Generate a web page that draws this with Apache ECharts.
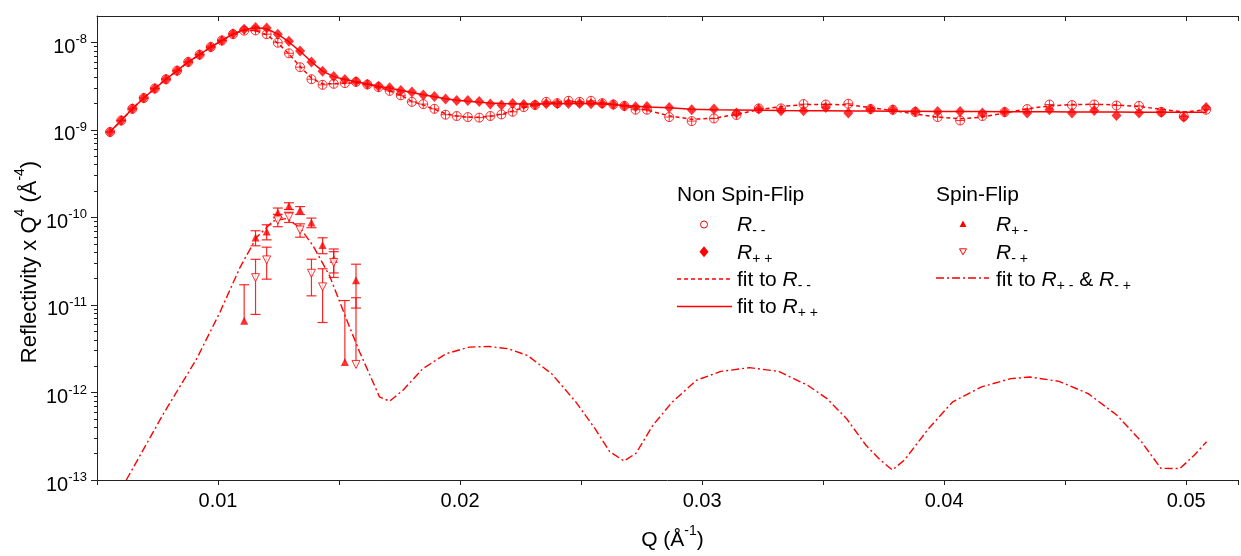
<!DOCTYPE html>
<html><head><meta charset="utf-8">
<script src="https://cdn.jsdelivr.net/npm/echarts@6/dist/echarts.min.js"></script>
<style>html,body{margin:0;padding:0;background:#fff}#c{width:1241px;height:556px}</style>
</head><body><div id="c"></div>
<script>
// ---------- data ----------
const Q = [0.00554,0.00600,0.00646,0.00693,0.00739,0.00785,0.00831,0.00877,0.00924,0.00970,
0.01016,0.01062,0.01108,0.01155,0.01201,0.01247,0.01293,0.01339,0.01386,0.01432,
0.01478,0.01524,0.01570,0.01617,0.01663,0.01709,0.01755,0.01801,0.01848,0.01894,
0.01940,0.01986,0.02032,0.02079,0.02125,0.02171,0.02217,0.02263,0.02310,0.02356,
0.02402,0.02448,0.02494,0.02541,0.02587,0.02633,0.02679,0.02725,0.02772,0.02864,
0.02957,0.03049,0.03142,0.03234,0.03326,0.03419,0.03511,0.03604,0.03696,0.03788,
0.03881,0.03973,0.04066,0.04158,0.04250,0.04343,0.04435,0.04528,0.04620,0.04712,
0.04805,0.04897,0.04990,0.05082];
const Rpp = [9.46e-10,1.28e-9,1.74e-9,2.31e-9,2.97e-9,3.79e-9,4.75e-9,5.97e-9,7.23e-9,8.85e-9,
1.05e-8,1.25e-8,1.41e-8,1.48e-8,1.46e-8,1.24e-8,1.03e-8,7.96e-9,5.97e-9,4.67e-9,
4.06e-9,3.76e-9,3.57e-9,3.33e-9,3.16e-9,3.02e-9,2.81e-9,2.70e-9,2.51e-9,2.40e-9,
2.26e-9,2.17e-9,2.17e-9,2.11e-9,1.97e-9,1.92e-9,2.00e-9,1.95e-9,1.94e-9,1.99e-9,
1.99e-9,2.00e-9,2.00e-9,1.99e-9,1.99e-9,1.95e-9,1.88e-9,1.84e-9,1.85e-9,1.80e-9,
1.70e-9,1.73e-9,1.56e-9,1.73e-9,1.65e-9,1.65e-9,1.80e-9,1.56e-9,1.73e-9,1.70e-9,
1.62e-9,1.62e-9,1.62e-9,1.56e-9,1.60e-9,1.56e-9,1.70e-9,1.56e-9,1.67e-9,1.46e-9,
1.56e-9,1.58e-9,1.39e-9,1.80e-9];
const Rmm = [9.46e-10,1.28e-9,1.74e-9,2.31e-9,2.97e-9,3.79e-9,4.75e-9,5.97e-9,7.23e-9,8.85e-9,
1.05e-8,1.24e-8,1.36e-8,1.37e-8,1.24e-8,9.9e-9,7.5e-9,5.2e-9,3.79e-9,3.27e-9,
3.36e-9,3.42e-9,3.53e-9,3.30e-9,3.08e-9,2.79e-9,2.48e-9,2.09e-9,1.97e-9,1.74e-9,
1.49e-9,1.44e-9,1.40e-9,1.38e-9,1.44e-9,1.50e-9,1.61e-9,1.82e-9,1.92e-9,2.09e-9,
2.02e-9,2.15e-9,2.09e-9,2.15e-9,2.02e-9,1.95e-9,1.88e-9,1.70e-9,1.70e-9,1.40e-9,
1.26e-9,1.35e-9,1.48e-9,1.76e-9,1.76e-9,1.97e-9,1.95e-9,1.99e-9,1.73e-9,1.70e-9,
1.60e-9,1.40e-9,1.28e-9,1.44e-9,1.60e-9,1.73e-9,1.95e-9,1.92e-9,1.95e-9,1.90e-9,
1.88e-9,1.61e-9,1.43e-9,1.70e-9];
const fitPP = [9.5e-10,1.28e-9,1.74e-9,2.31e-9,2.97e-9,3.79e-9,4.75e-9,5.97e-9,7.23e-9,8.85e-9,
1.05e-8,1.25e-8,1.40e-8,1.47e-8,1.43e-8,1.24e-8,1.01e-8,7.9e-9,6.0e-9,4.7e-9,
4.06e-9,3.76e-9,3.55e-9,3.35e-9,3.16e-9,3.0e-9,2.83e-9,2.68e-9,2.52e-9,2.39e-9,
2.27e-9,2.18e-9,2.12e-9,2.07e-9,2.03e-9,2.00e-9,1.99e-9,1.98e-9,1.98e-9,1.99e-9,
1.99e-9,2.00e-9,2.00e-9,1.99e-9,1.98e-9,1.95e-9,1.90e-9,1.86e-9,1.83e-9,1.79e-9,
1.72e-9,1.70e-9,1.69e-9,1.68e-9,1.66e-9,1.65e-9,1.65e-9,1.64e-9,1.64e-9,1.63e-9,
1.63e-9,1.62e-9,1.62e-9,1.62e-9,1.61e-9,1.61e-9,1.61e-9,1.60e-9,1.60e-9,1.60e-9,
1.59e-9,1.59e-9,1.59e-9,1.59e-9];
const fitMM = [9.46e-10,1.28e-9,1.74e-9,2.31e-9,2.97e-9,3.79e-9,4.75e-9,5.97e-9,7.23e-9,8.85e-9,
1.05e-8,1.24e-8,1.37e-8,1.36e-8,1.22e-8,9.8e-9,7.4e-9,5.3e-9,3.9e-9,3.35e-9,
3.36e-9,3.42e-9,3.45e-9,3.32e-9,3.08e-9,2.80e-9,2.48e-9,2.12e-9,1.92e-9,1.72e-9,
1.53e-9,1.44e-9,1.40e-9,1.39e-9,1.43e-9,1.52e-9,1.64e-9,1.80e-9,1.93e-9,2.03e-9,
2.08e-9,2.10e-9,2.10e-9,2.08e-9,2.03e-9,1.96e-9,1.87e-9,1.77e-9,1.68e-9,1.45e-9,
1.32e-9,1.36e-9,1.50e-9,1.70e-9,1.85e-9,1.94e-9,1.96e-9,1.93e-9,1.80e-9,1.66e-9,
1.52e-9,1.40e-9,1.34e-9,1.40e-9,1.56e-9,1.74e-9,1.88e-9,1.95e-9,1.96e-9,1.93e-9,
1.85e-9,1.72e-9,1.60e-9,1.70e-9];
// spin-flip data
const sfQ    = [0.01108,0.01155,0.01201,0.01247,0.01293,0.01339,0.01386,0.01432,0.01478,0.01524,0.01570];
const Rpm    = [6.6e-12,5.89e-11,6.89e-11,1.135e-10,1.35e-10,1.205e-10,8.73e-11,4.85e-11,3.34e-11,2.23e-12,1.92e-11];
const RpmErr = [1.04e-11,1.15e-11,1.35e-11,1.45e-11,1.2e-11,1.25e-11,1.1e-11,1.0e-11,1.02e-11,9.0e-12,1.0e-11];
const Rmp    = [null,2.05e-11,3.27e-11,9.33e-11,1.01e-10,7.19e-11,2.30e-11,1.61e-11,3.06e-11,null,2.09e-12];
const RmpErr = [null,1.27e-11,1.3e-11,1.5e-11,1.35e-11,1.25e-11,1.03e-11,9.8e-12,1.0e-11,null,1.0e-11];
// spin-flip fit
const sfFitQ = [0.00621,0.00775,0.00912,0.01008,0.01091,0.01159,0.01228,0.01283,0.01338,0.01393,
0.01461,0.01530,0.01585,0.01640,0.01667,0.01709,0.01764,0.01846,0.01942,0.02038,
0.02120,0.02198,0.02278,0.02378,0.02478,0.02557,0.02618,0.02677,0.02727,0.02797,
0.02877,0.02977,0.03077,0.03197,0.03316,0.03436,0.03516,0.03596,0.03676,0.03736,
0.03786,0.03836,0.03936,0.04035,0.04155,0.04275,0.04355,0.04475,0.04595,0.04714,
0.04815,0.04895,0.04974,0.05034,0.05084];
const sfFitV = [1.0e-13,5.75e-13,2.43e-12,8.26e-12,2.69e-11,5.89e-11,9.1e-11,9.7e-11,7.65e-11,4.73e-11,
2.15e-11,6.93e-12,2.90e-12,1.32e-12,8.9e-13,7.95e-13,1.06e-12,1.87e-12,2.77e-12,3.30e-12,
3.35e-12,3.16e-12,2.65e-12,1.64e-12,7.8e-13,3.88e-13,2.11e-13,1.65e-13,2.02e-13,4.24e-13,
7.8e-13,1.38e-12,1.74e-12,1.92e-12,1.74e-12,1.21e-12,8.5e-13,5.05e-13,2.51e-13,1.69e-13,
1.30e-13,1.69e-13,3.88e-13,7.8e-13,1.16e-12,1.44e-12,1.50e-12,1.34e-12,9.7e-13,5.5e-13,
2.74e-13,1.36e-13,1.35e-13,1.93e-13,2.74e-13];
// axis ticks / labels
const yMajorTicks = [1e-13,1e-12,1e-11,1e-10,1e-9,1e-8];
const yMinorTicks = [];
yMajorTicks.slice(0,5).forEach(p => { for (let k = 2; k <= 9; k++) yMinorTicks.push(k * p); });
const xLabelTicks = ['0.01','0.02','0.03','0.04','0.05'];
// legend texts
const legendNSF = ['{r|R}{s|- -}', '{r|R}{s|+ +}', '{n|fit to }{r|R}{s|- -}', '{n|fit to }{r|R}{s|+ +}'];
const legendSF  = ['{r|R}{s|+ -}', '{r|R}{s|- +}', '{n|fit to }{r|R}{s|+ -}{n| & }{r|R}{s|- +}'];

// ---------- chart ----------
const FONT = 'Liberation Sans, Arial, sans-serif';
const RED = '#ff0000';
const zip = (xs, ys) => xs.map((x, i) => [x, ys[i]]).filter(d => d[1] != null);
const errData = (vals, errs) => sfQ.map((q, i) => [q, vals[i], errs[i]]).filter(d => d[1] != null);

const legendRich = {
  n: {fontSize: 21, fontFamily: FONT, lineHeight: 26, verticalAlign: 'middle', fill: '#000'},
  r: {fontSize: 21, fontFamily: FONT, fontStyle: 'italic', lineHeight: 26, verticalAlign: 'middle', fill: '#000'},
  s: {fontSize: 14, fontFamily: FONT, lineHeight: 26, verticalAlign: 'bottom', fill: '#000'}
};

function errorBarRender(params, api) {
  const q = api.value(0), v = api.value(1), e = api.value(2);
  const top = api.coord([q, v + e]);
  const hasLow = v - e > 0;
  const bot = api.coord([q, hasLow ? v - e : v]);
  const cw = 5;
  const st = {stroke: 'rgba(255,0,0,0.85)', lineWidth: 1.2};
  const ch = [
    {type: 'line', shape: {x1: top[0], y1: top[1], x2: bot[0], y2: bot[1]}, style: st},
    {type: 'line', shape: {x1: top[0] - cw, y1: top[1], x2: top[0] + cw, y2: top[1]}, style: st}
  ];
  if (hasLow) ch.push({type: 'line', shape: {x1: bot[0] - cw, y1: bot[1], x2: bot[0] + cw, y2: bot[1]}, style: st});
  return {type: 'group', children: ch};
}

const circlePlus = 'path://M1,10 A9,9 0 1,1 19,10 A9,9 0 1,1 1,10 Z M10,1 L10,19 M1,10 L19,10';

// legend drawn as graphic elements
const rowStep = 27.3;
const nsfX = 677, sfX = 936, rowY0 = 224.5;
const legendGraphics = [
  {type: 'text', x: nsfX, y: 195, style: {text: 'Non Spin-Flip', fontSize: 21, fontFamily: FONT, fill: '#000', verticalAlign: 'middle'}},
  {type: 'text', x: sfX, y: 195, style: {text: 'Spin-Flip', fontSize: 21, fontFamily: FONT, fill: '#000', verticalAlign: 'middle'}},
  // NSF icons
  {type: 'circle', shape: {cx: nsfX + 27, cy: rowY0, r: 3.5}, style: {fill: '#fff', stroke: RED, lineWidth: 1}},
  {type: 'polygon', shape: {points: [[nsfX + 27, rowY0 + rowStep - 5.5], [nsfX + 31.5, rowY0 + rowStep], [nsfX + 27, rowY0 + rowStep + 5.5], [nsfX + 22.5, rowY0 + rowStep]]}, style: {fill: RED}},
  {type: 'line', shape: {x1: nsfX, y1: rowY0 + 2 * rowStep, x2: nsfX + 55, y2: rowY0 + 2 * rowStep}, style: {stroke: RED, lineWidth: 1.5, lineDash: [4, 3]}},
  {type: 'line', shape: {x1: nsfX, y1: rowY0 + 3 * rowStep, x2: nsfX + 55, y2: rowY0 + 3 * rowStep}, style: {stroke: RED, lineWidth: 1.5}},
  // SF icons
  {type: 'polygon', shape: {points: [[sfX + 27, rowY0 - 4], [sfX + 30.5, rowY0 + 2.5], [sfX + 23.5, rowY0 + 2.5]]}, style: {fill: RED}},
  {type: 'polygon', shape: {points: [[sfX + 27, rowY0 + rowStep + 3], [sfX + 30.5, rowY0 + rowStep - 3], [sfX + 23.5, rowY0 + rowStep - 3]]}, style: {fill: '#fff', stroke: RED, lineWidth: 1}},
  {type: 'line', shape: {x1: sfX, y1: rowY0 + 2 * rowStep - 1, x2: sfX + 53, y2: rowY0 + 2 * rowStep - 1}, style: {stroke: RED, lineWidth: 1.5, lineDash: [8, 3, 2, 3]}}
];
legendNSF.forEach((t, i) => legendGraphics.push({type: 'text', x: 737, y: rowY0 + i * rowStep + 1, style: {text: t, verticalAlign: 'middle', rich: legendRich}}));
legendSF.forEach((t, i) => legendGraphics.push({type: 'text', x: 996, y: rowY0 + i * rowStep + 1, style: {text: t, verticalAlign: 'middle', rich: legendRich}}));
legendGraphics.push({type: 'text', x: 27, y: 262, rotation: Math.PI / 2, style: {
  text: '{n|Reflectivity x Q}{s|4}{n| (Å}{s|-4}{n|)}', align: 'center', verticalAlign: 'middle',
  rich: {
    n: {fontSize: 22, fontFamily: FONT, fill: '#000', lineHeight: 28, verticalAlign: 'bottom'},
    s: {fontSize: 14, fontFamily: FONT, fill: '#000', lineHeight: 28, verticalAlign: 'top'}
  }
}});

const chart = echarts.init(document.getElementById('c'), null, {renderer: 'canvas'});
const axisLineStyle = {color: '#222', width: 1};
chart.setOption({
  animation: false,
  backgroundColor: '#fff',
  grid: {left: 97, right: 0, top: 16, bottom: 74},
  xAxis: [{
    type: 'value', min: 0.005, max: 0.05214, interval: 0.005, position: 'bottom',
    axisLine: {lineStyle: axisLineStyle},
    axisTick: {length: 5, lineStyle: axisLineStyle},
    splitLine: {show: false},
    axisLabel: {
      margin: 11, fontSize: 20, fontFamily: FONT, color: '#000',
      formatter: v => { const k = Math.round(v / 0.005); if (Math.abs(v - k * 0.005) > 1e-7 || k % 2) return ''; return xLabelTicks[k / 2 - 1] || ''; }
    },
    name: '{n|Q (Å}{s|-1}{n|)}', nameLocation: 'middle', nameGap: 44,
    nameTextStyle: {padding: [0, 0, 0, 10], rich: {
      n: {fontSize: 21, fontFamily: FONT, color: '#000', lineHeight: 27, verticalAlign: 'bottom'},
      s: {fontSize: 14, fontFamily: FONT, color: '#000', lineHeight: 27, verticalAlign: 'top'}
    }}
  }, {
    type: 'value', min: 0.005, max: 0.05214, interval: 0.005, position: 'top',
    axisLine: {lineStyle: axisLineStyle},
    axisTick: {inside: true, length: 5, lineStyle: axisLineStyle},
    axisLabel: {show: false}, splitLine: {show: false}
  }],
  yAxis: [{
    type: 'log', logBase: 10, min: 1e-13, max: 2e-8, position: 'left',
    axisLine: {show: true, lineStyle: axisLineStyle},
    axisTick: {show: true, length: 6, customValues: yMajorTicks, lineStyle: axisLineStyle},
    minorTick: {show: false},
    splitLine: {show: false},
    axisLabel: {
      customValues: yMajorTicks, margin: 10, padding: [6, 0, 0, 0],
      formatter: v => '{b|10}{e|' + Math.round(Math.log10(v)) + '}',
      rich: {
        b: {fontSize: 20, fontFamily: FONT, color: '#000', lineHeight: 24, verticalAlign: 'bottom'},
        e: {fontSize: 13, fontFamily: FONT, color: '#000', lineHeight: 24, verticalAlign: 'top'}
      }
    }
  }, {
    type: 'log', logBase: 10, min: 1e-13, max: 2e-8, position: 'left',
    axisLine: {show: false},
    axisTick: {show: true, length: 3, customValues: yMinorTicks, lineStyle: axisLineStyle},
    axisLabel: {show: false}, splitLine: {show: false}
  }],
  graphic: legendGraphics,
  series: [
    {name: 'fit to R--', type: 'line', data: zip(Q, fitMM), showSymbol: false, symbol: 'none',
     lineStyle: {color: RED, width: 1.5, type: [4, 3]}, itemStyle: {color: RED}, z: 2},
    {name: 'fit to R++', type: 'line', data: zip(Q, fitPP), showSymbol: false, symbol: 'none',
     lineStyle: {color: RED, width: 1.5, type: 'solid'}, itemStyle: {color: RED}, z: 2},
    {name: 'fit to R+- & R-+', type: 'line', data: zip(sfFitQ, sfFitV), showSymbol: false, symbol: 'none',
     lineStyle: {color: RED, width: 1.4, type: [8, 3, 2, 3]}, itemStyle: {color: RED}, z: 2},
    {name: 'R--', type: 'scatter', data: zip(Q, Rmm), symbol: circlePlus, symbolSize: 9,
     itemStyle: {color: 'rgba(255,255,255,0)', borderColor: RED, borderWidth: 1}, z: 3},
    {name: 'R++', type: 'scatter', data: zip(Q, Rpp), symbol: 'diamond', symbolSize: [10, 11],
     itemStyle: {color: RED}, z: 4},
    {name: 'errPm', type: 'custom', data: errData(Rpm, RpmErr), renderItem: errorBarRender,
     encode: {x: 0, y: 1}, silent: true, z: 3},
    {name: 'errMp', type: 'custom', data: errData(Rmp, RmpErr), renderItem: errorBarRender,
     encode: {x: 0, y: 1}, silent: true, z: 3},
    {name: 'R+-', type: 'scatter', data: zip(sfQ, Rpm), symbol: 'triangle', symbolSize: 8,
     itemStyle: {color: RED}, z: 5},
    {name: 'R-+', type: 'scatter', data: zip(sfQ, Rmp), symbol: 'triangle', symbolRotate: 180, symbolSize: 8,
     itemStyle: {color: '#fff', borderColor: RED, borderWidth: 1}, z: 5}
  ]
});
</script></body></html>
